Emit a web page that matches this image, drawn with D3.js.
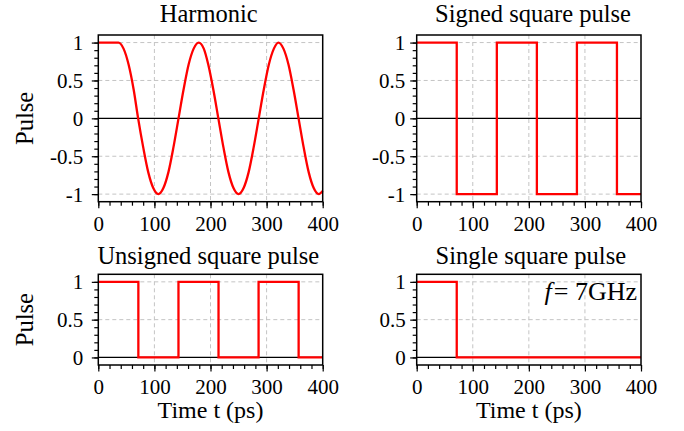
<!DOCTYPE html>
<html><head><meta charset="utf-8">
<script src="https://cdn.jsdelivr.net/npm/d3@7"></script>
<style>
body{margin:0;background:#fff}
svg{display:block}
svg text{font-family:"Liberation Serif","Times New Roman",Times,"DejaVu Serif",serif !important;fill:#000}
</style>
</head><body>
<svg id="c" width="684" height="431"></svg>
<script>
// ---- data ----
const titles = ["Harmonic", "Signed square pulse", "Unsigned square pulse", "Single square pulse"];
const xTicks = [0, 100, 200, 300, 400];
const yTicksSigned = [-1, -0.5, 0, 0.5, 1];
const yTicksUnsigned = [0, 0.5, 1];
const xLabel = "Time t (ps)";
const yLabel = "Pulse";

const harmonicT = [0, 36, 45, 54, 63, 71, 80, 89, 98, 107, 116, 125, 134, 143, 152, 161, 170, 179, 188, 196, 205, 214, 223, 232, 241, 250, 259, 268, 277, 286, 295, 304, 313, 321, 330, 339, 348, 357, 366, 375, 384, 393, 400];
const harmonicV = [1, 1, 0.92, 0.71, 0.38, 0, -0.38, -0.71, -0.92, -1, -0.92, -0.71, -0.38, 0, 0.38, 0.71, 0.92, 1, 0.92, 0.71, 0.38, 0, -0.38, -0.71, -0.92, -1, -0.92, -0.71, -0.38, 0, 0.38, 0.71, 0.92, 1, 0.92, 0.71, 0.38, 0, -0.38, -0.71, -0.92, -1, -0.96];

const signedT = [0, 71.4, 142.9, 214.3, 285.7, 357.1, 400];
const signedV = [1, -1, 1, -1, 1, -1, -1];

const unsignedT = [0, 71.4, 142.9, 214.3, 285.7, 357.1, 400];
const unsignedV = [1, 0, 1, 0, 1, 0, 0];

const singleT = [0, 71.4, 400];
const singleV = [1, 0, 0];

const annotation = "= 7GHz";

// ---- layout ----
const FONT = '"Liberation Serif","Times New Roman",Times,"DejaVu Serif",serif';
const panels = [
  {title: titles[0], t: harmonicT, v: harmonicV, curve: d3.curveMonotoneX, x0: 98.3, x1: 322.7, y0: 35, y1: 201.7, yd: [-1.1, 1.1], yt: yTicksSigned, lo: 15, tx: 208.7, ty: 22, yl: true, xl: false},
  {title: titles[1], t: signedT, v: signedV, curve: d3.curveStepAfter, x0: 416.7, x1: 641, y0: 35, y1: 201.7, yd: [-1.1, 1.1], yt: yTicksSigned, lo: 11.5, tx: 533, ty: 22, yl: false, xl: false},
  {title: titles[2], t: unsignedT, v: unsignedV, curve: d3.curveStepAfter, x0: 98.3, x1: 322.7, y0: 274.3, y1: 365, yd: [-0.1, 1.1], yt: yTicksUnsigned, lo: 15, tx: 208.3, ty: 263.5, yl: true, xl: true},
  {title: titles[3], t: singleT, v: singleV, curve: d3.curveStepAfter, x0: 416.7, x1: 641, y0: 274.3, y1: 365, yd: [-0.1, 1.1], yt: yTicksUnsigned, lo: 11, tx: 530.8, ty: 263.5, yl: false, xl: true, note: true}
];

const svg = d3.select("#c");

panels.forEach(p => {
  const x = d3.scaleLinear().domain([0, 400]).range([p.x0, p.x1]);
  const y = d3.scaleLinear().domain(p.yd).range([p.y1, p.y0]);
  const g = svg.append("g");

  // grid
  g.selectAll(".gx").data(xTicks.filter(d => d > 0 && d < 400)).enter().append("line")
    .attr("x1", d => x(d)).attr("x2", d => x(d)).attr("y1", p.y0).attr("y2", p.y1)
    .attr("stroke", "#c4c4c4").attr("stroke-width", 1).attr("stroke-dasharray", "4,3");
  g.selectAll(".gy").data(p.yt.filter(d => d !== 0)).enter().append("line")
    .attr("x1", p.x0).attr("x2", p.x1).attr("y1", d => y(d)).attr("y2", d => y(d))
    .attr("stroke", "#c4c4c4").attr("stroke-width", 1).attr("stroke-dasharray", "4,3");
  // zero line
  g.append("line").attr("x1", p.x0).attr("x2", p.x1).attr("y1", y(0)).attr("y2", y(0))
    .attr("stroke", "#000").attr("stroke-width", 1.2);

  // minor ticks
  const minorX = d3.axisBottom(x).tickValues(d3.range(0, 401, 20)).tickSize(4).tickFormat("");
  const minorY = d3.axisLeft(y).tickValues(d3.range(Math.round(p.yd[0] * 10 + 1), Math.round(p.yd[1] * 10)).map(d => d / 10)).tickSize(4).tickFormat("");
  const mx = g.append("g").attr("transform", `translate(0,${p.y1})`).call(minorX);
  const my = g.append("g").attr("transform", `translate(${p.x0},0)`).call(minorY);
  [mx, my].forEach(a => { a.select(".domain").remove(); a.selectAll("line").attr("stroke", "#000").attr("stroke-width", 1.2); });

  // major ticks
  const ax = g.append("g").attr("transform", `translate(0,${p.y1})`)
    .call(d3.axisBottom(x).tickValues(xTicks).tickSize(6.5).tickFormat(d => String(d)));
  ax.attr("font-family", FONT);
  ax.select(".domain").remove();
  ax.selectAll("line").attr("stroke", "#000").attr("stroke-width", 1.2);
  ax.selectAll("text").attr("y", 29).attr("dy", 0).style("font-size", "21px").attr("fill", "#000");

  const ay = g.append("g").attr("transform", `translate(${p.x0},0)`)
    .call(d3.axisLeft(y).tickValues(p.yt).tickSize(6.5).tickFormat(d => String(d)));
  ay.attr("font-family", FONT);
  ay.select(".domain").remove();
  ay.selectAll("line").attr("stroke", "#000").attr("stroke-width", 1.2);
  ay.selectAll("text").attr("x", -p.lo).attr("dy", "0.34em").style("font-size", "21px").attr("fill", "#000");

  // data line
  const pts = p.t.map((t, i) => [t, p.v[i]]);
  g.append("path").datum(pts)
    .attr("d", d3.line().x(d => x(d[0])).y(d => y(d[1])).curve(p.curve))
    .attr("fill", "none").attr("stroke", "#f00").attr("stroke-width", 2.3)
    .attr("stroke-linejoin", "miter");

  // frame
  g.append("rect").attr("x", p.x0).attr("y", p.y0).attr("width", p.x1 - p.x0).attr("height", p.y1 - p.y0)
    .attr("fill", "none").attr("stroke", "#000").attr("stroke-width", 1.5);

  // title
  g.append("text").attr("x", p.tx).attr("y", p.ty).attr("text-anchor", "middle")
    .style("font-size", "24.5px").text(p.title);

  if (p.yl) {
    g.append("text").attr("transform", `translate(33,${(p.y0 + p.y1) / 2}) rotate(-90)`)
      .attr("text-anchor", "middle").style("font-size", "24.5px").text(yLabel);
  }
  if (p.xl) {
    g.append("text").attr("x", (p.x0 + p.x1) / 2).attr("y", 418).attr("text-anchor", "middle")
      .style("font-size", "24px").text(xLabel);
  }
  if (p.note) {
    const t = g.append("text").attr("x", 637).attr("y", 300).attr("text-anchor", "end").style("font-size", "26px");
    t.append("tspan").style("font-style", "italic").text("f");
    t.append("tspan").attr("dx", 2).text(annotation);
  }
});
</script>
</body></html>
